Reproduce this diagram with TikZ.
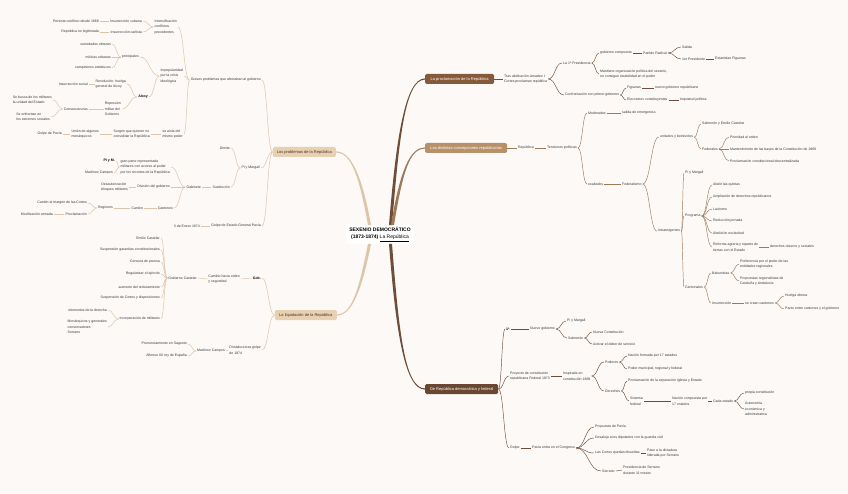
\documentclass[tikz,border=0pt]{standalone}
\usepackage{fontspec}
\setmainfont{Liberation Sans}
\usetikzlibrary{calc}
\definecolor{bg}{HTML}{FCF9F7}
\definecolor{rdark}{HTML}{85593A}
\definecolor{rmid}{HTML}{B8916B}
\definecolor{rdeep}{HTML}{6B4630}
\definecolor{lbox}{HTML}{E8D0B3}
\definecolor{rln}{HTML}{6E4E38}
\definecolor{mln}{HTML}{9C7A5A}
\definecolor{lln}{HTML}{DCC5A8}
\definecolor{txt}{HTML}{3A3A3A}
\definecolor{ltxt}{HTML}{4A3320}
\newcommand\leaffont{\fontsize{3.5}{5.5}\selectfont}
\newcommand\boxfont{\fontsize{4}{5}\selectfont}
\newcommand\redge[2]{\draw[rline] let \p1=(#1.east), \p2=(#2.west), \n1={(\x1+\x2)/2} in (\p1) .. controls (\n1,\y1) and (\n1,\y2) .. (\p2);}
\newcommand\medge[2]{\draw[mline] let \p1=(#1.east), \p2=(#2.west), \n1={(\x1+\x2)/2} in (\p1) .. controls (\n1,\y1) and (\n1,\y2) .. (\p2);}
\newcommand\ledge[2]{\draw[lline] let \p1=(#1.west), \p2=(#2.east), \n1={(\x1+\x2)/2} in (\p1) .. controls (\n1,\y1) and (\n1,\y2) .. (\p2);}
\tikzset{
 rt/.style={anchor=west,font=\leaffont,text=txt,inner sep=1pt,align=left},
 lt/.style={anchor=east,font=\leaffont,text=txt,inner sep=1pt,align=left},
 bd/.style={font=\leaffont\bfseries,text=black},
 mainbox/.style={rounded corners=1.5pt,minimum height=10pt,inner xsep=2pt,inner ysep=0pt,font=\boxfont,text=white},
 lbx/.style={mainbox,fill=lbox,text=ltxt},
 rline/.style={draw=rln,line width=0.45pt},
 mline/.style={draw=mln,line width=0.45pt},
 lline/.style={draw=lln,line width=0.5pt},
}
\begin{document}
\begin{tikzpicture}[x=1pt,y=-1pt]
\fill[bg] (0,0) rectangle (848,494);
\useasboundingbox (0,0) rectangle (848,494);

% centre
\node[fill=white,inner xsep=3pt,inner ysep=2pt,align=center,font=\fontsize{5}{7}\selectfont\bfseries,text=black] (c) at (380,234.5) {SEXENIO DEMOCRÁTICO\\(1873-1874) \underline{\mdseries La República}};

% main boxes
\node[mainbox,fill=rdark,anchor=west,minimum width=69pt] (R1) at (425,79) {La proclamación de la República};
\node[mainbox,fill=rmid,anchor=west,minimum width=82pt] (R2) at (425,148) {Las distintas concepciones republicanas};
\node[mainbox,fill=rdeep,anchor=west,minimum width=73pt] (R3) at (425,389) {De República democrática y federal};
\node[lbx,anchor=east,minimum width=63pt] (L1) at (336,152) {Los problemas de la República};
\node[lbx,anchor=east,minimum width=62pt] (L2) at (337,315) {La liquidación de la República};

% tapered trunks
\fill[rln] ([xshift=9pt]c.north) .. controls +(7,-86) and +(-20,0) .. ([yshift=0.6pt]R1.west) -- ([yshift=-0.6pt]R1.west) .. controls +(-20,0) and +(7,-86) .. ([xshift=12pt]c.north) -- cycle;
\fill[mln] ([xshift=11pt]c.north) .. controls +(9,-55) and +(-15,0) .. ([yshift=0.6pt]R2.west) -- ([yshift=-0.6pt]R2.west) .. controls +(-15,0) and +(9,-55) .. ([xshift=14pt]c.north) -- cycle;
\fill[rln] ([xshift=9pt]c.south) .. controls +(7,90) and +(-20,0) .. ([yshift=-0.6pt]R3.west) -- ([yshift=0.6pt]R3.west) .. controls +(-20,0) and +(7,90) .. ([xshift=12pt]c.south) -- cycle;
\fill[lln] ([xshift=-9pt]c.north) .. controls +(-9,-50) and +(15,0) .. ([yshift=0.6pt]L1.east) -- ([yshift=-0.6pt]L1.east) .. controls +(15,0) and +(-9,-50) .. ([xshift=-12pt]c.north) -- cycle;
\fill[lln] ([xshift=-9pt]c.south) .. controls +(-9,45) and +(15,0) .. ([yshift=-0.6pt]L2.east) -- ([yshift=0.6pt]L2.east) .. controls +(15,0) and +(-9,45) .. ([xshift=-12pt]c.south) -- cycle;

% ---------- R1
\node[rt] (a1) at (503,79) {Tras abdicación Amadeo I\\Cortes proclaman república};
\node[rt] (a2) at (562,63) {La 1ª Presidencia};
\node[rt] (a3) at (599,53) {gobierno compuesto};
\node[rt] (a4) at (642,53) {Partido Radical};
\node[rt] (a5) at (681,47) {Salida};
\node[rt] (a6) at (681,59) {1er Presidente};
\node[rt] (a7) at (714,59) {Estanislao Figueras};
\node[rt] (a8) at (599,74) {Mantiene organización política del sexenio,\\no consigue estabilidad en el poder};
\node[rt] (a9) at (564,95) {Confrontación con primer gobierno};
\node[rt] (a10) at (626,88) {Figueras};
\node[rt] (a11) at (654,88) {nuevo gobierno republicano};
\node[rt] (a12) at (626,100) {Elecciones constituyentes};
\node[rt] (a13) at (679,100) {Inquietud política};
\redge{R1}{a1}\redge{a1}{a2}\redge{a2}{a3}\redge{a3}{a4}\redge{a4}{a5}\redge{a4}{a6}\redge{a6}{a7}
\redge{a2}{a8}\redge{a1}{a9}\redge{a9}{a10}\redge{a10}{a11}\redge{a9}{a12}\redge{a12}{a13}

% ---------- R2
\node[rt] (b1) at (517,148) {República};
\node[rt] (b2) at (546,148) {Tensiones políticas};
\node[rt] (b3) at (587,113) {Moderados};
\node[rt] (b4) at (621,113) {salida de emergencia};
\node[rt] (b5) at (587,184) {exaltados};
\node[rt] (b6) at (621,184) {Federalismo};
\node[rt] (b7) at (659,137) {unitarios y benévolos};
\node[rt] (b8) at (701,124) {Salmerón y Emilio Castelar};
\node[rt] (b9) at (701,149) {Federales};
\node[rt] (b10) at (729,137) {Prioridad al orden};
\node[rt] (b11) at (729,149) {Mantenimiento de las bases de la Constitución de 1869};
\node[rt] (b12) at (729,161) {Proclamación constitucional descentralizada};
\node[rt] (b13) at (657,231) {Intransigentes};
\node[rt] (b14) at (684,173) {Pi y Margall};
\node[rt] (b15) at (684,216) {Programa};
\node[rt] (b16) at (712,185) {Abolir las quintas};
\node[rt] (b17) at (712,197) {Ampliación de derechos republicanos};
\node[rt] (b18) at (712,209) {Laicismo};
\node[rt] (b19) at (712,221) {Reducción jornada};
\node[rt] (b20) at (712,233) {Abolición esclavitud};
\node[rt] (b21) at (712,247) {Reforma agraria y reparto de\\tierras con el Estado};
\node[rt] (b22) at (769,247) {derechos obreros y sociales};
\node[rt] (b23) at (684,287) {Cantonales};
\node[rt] (b24) at (711,273) {Bakunistas};
\node[rt] (b25) at (739,264) {Preferencia por el poder de las\\entidades regionales};
\node[rt] (b26) at (739,281) {Propuestas regionalistas de\\Cataluña y Andalucía};
\node[rt] (b27) at (711,303) {Insurrección};
\node[rt] (b28) at (744,303) {se crean cantones};
\node[rt] (b29) at (784,296) {Huelga obrera};
\node[rt] (b30) at (784,309) {Pacto entre cantones y el gobierno};
\medge{R2}{b1}\medge{b1}{b2}\medge{b2}{b3}\medge{b3}{b4}\medge{b2}{b5}\medge{b5}{b6}
\medge{b6}{b7}\medge{b7}{b8}\medge{b7}{b9}\medge{b9}{b10}\medge{b9}{b11}\medge{b9}{b12}
\medge{b6}{b13}\medge{b13}{b14}\medge{b13}{b15}
\medge{b15}{b16}\medge{b15}{b17}\medge{b15}{b18}\medge{b15}{b19}\medge{b15}{b20}\medge{b15}{b21}\medge{b21}{b22}
\medge{b13}{b23}\medge{b23}{b24}\medge{b24}{b25}\medge{b24}{b26}\medge{b23}{b27}\medge{b27}{b28}\medge{b28}{b29}\medge{b28}{b30}

% ---------- R3
\node[rt,bd] (c1) at (505,329) {1ª};
\node[rt] (c2) at (529,329) {Nuevo gobierno};
\node[rt] (c3) at (566,321) {Pi y Margall};
\node[rt] (c4) at (567,338) {Salmerón};
\node[rt] (c5) at (592,332) {Nueva Constitución};
\node[rt] (c6) at (592,344) {Activar el deber de servicio};
\node[rt] (c7) at (509,376) {Proyecto de constitución\\republicana Federal 1873};
\node[rt] (c8) at (562,376) {Inspirada en\\constitución 1869};
\node[rt] (c9) at (604,362) {Poderes};
\node[rt] (c10) at (627,356) {Nación formada por 17 estados};
\node[rt] (c11) at (627,369) {Poder municipal, regional y federal};
\node[rt] (c12) at (604,391) {Derechos};
\node[rt] (c13) at (627,381) {Proclamación de la separación Iglesia y Estado};
\node[rt] (c14) at (629,401) {Sistema\\federal};
\node[rt] (c15) at (671,401) {Nación compuesta por\\17 estados};
\node[rt] (c16) at (712,401) {Cada estado};
\node[rt] (c17) at (744,393) {propia constitución};
\node[rt] (c18) at (744,409) {Autonomía\\económica y\\administrativa};
\node[rt] (c19) at (509,448) {Golpe};
\node[rt] (c20) at (531,448) {Pavía entra en el Congreso};
\node[rt] (c21) at (594,427) {Propuesta de Pavía};
\node[rt] (c22) at (594,438) {Desaloja a los diputados con la guardia civil};
\node[rt] (c23) at (594,453) {Las Cortes quedan disueltas};
\node[rt] (c24) at (646,453) {Paso a la dictadura\\liderada por Serrano};
\node[rt] (c25) at (601,471) {Serrano};
\node[rt] (c26) at (622,470) {Presidencia de Serrano\\durante 11 meses};
\redge{R3}{c1}\redge{c1}{c2}\redge{c2}{c3}\redge{c2}{c4}\redge{c4}{c5}\redge{c4}{c6}
\redge{R3}{c7}\redge{c7}{c8}\redge{c8}{c9}\redge{c9}{c10}\redge{c9}{c11}\redge{c8}{c12}\redge{c12}{c13}\redge{c12}{c14}
\redge{c14}{c15}\redge{c15}{c16}\redge{c16}{c17}\redge{c16}{c18}
\redge{R3}{c19}\redge{c19}{c20}\redge{c20}{c21}\redge{c20}{c22}\redge{c20}{c23}\redge{c23}{c24}\redge{c20}{c25}\redge{c25}{c26}

% ---------- L1
\node[lt] (d1) at (262,80) {Graves problemas que afectaban al gobierno};
\node[lt] (d2) at (178,27) {Intensificación\\conflictos\\precedentes};
\node[lt] (d3) at (143,21) {Insurrección cubana};
\node[lt] (d4) at (100,21) {Persiste conflicto desde 1868};
\node[lt] (d5) at (143,32) {Insurrección carlista};
\node[lt] (d6) at (100,32) {República no legitimada};
\node[lt] (d7) at (184,76) {Impopularidad\\por la crisis\\ideológica};
\node[lt] (d8) at (140,57) {principales};
\node[lt] (d9) at (112,44) {sociedades obreras};
\node[lt] (d10) at (112,57) {milicias urbanas};
\node[lt] (d11) at (112,68) {campesinos andaluces};
\node[lt,bd] (d12) at (149,97) {Alcoy};
\node[lt] (d13) at (127,84) {Revolución: huelga\\general de Alcoy};
\node[lt] (d14) at (89,84) {Insurrección social};
\node[lt] (d15) at (122,109) {Represión\\militar del\\Gobierno};
\node[lt] (d16) at (89,109) {Consecuencias};
\node[lt] (d17) at (53,100) {Se busca de los militares\\la unidad del Estado};
\node[lt] (d18) at (51,117) {Se enfrentan en\\los extremos sociales};
\node[lt] (d19) at (184,134) {se aísla del\\mismo poder};
\node[lt] (d20) at (151,134) {Surgen que quieren no\\consolidar la República};
\node[lt] (d21) at (100,134) {Unión de algunos\\monárquicos};
\node[lt] (d22) at (63,134) {Golpe de Pavía};
\node[lt] (d23) at (261,168) {Pi y Margall};
\node[lt] (d24) at (231,148) {Dimite};
\node[lt] (d25) at (231,187) {Sustitución};
\node[lt] (d26) at (202,187) {Gabinete};
\node[lt] (d27) at (171,167) {gran parte representada\\militares con acceso al poder\\por los recortes de la República};
\node[lt,bd] (d28) at (116,161) {Pi y M.};
\node[lt] (d29) at (114,173) {Martínez Campos};
\node[lt] (d30) at (171,187) {División del gobierno};
\node[lt] (d31) at (129,187) {Desautorización\\bloqueo militares};
\node[lt] (d32) at (174,208) {Cantones};
\node[lt] (d33) at (144,208) {Cantón};
\node[lt] (d34) at (114,208) {Regiones};
\node[lt] (d35) at (88,203) {Cantón al margen de las Cortes};
\node[lt] (d36) at (88,214) {Proclamación};
\node[lt] (d37) at (54,214) {Movilización armada};
\node[lt] (d38) at (262,226) {Golpe de Estado General Pavía};
\node[lt] (d39) at (201,226) {3 de Enero 1874};
\ledge{L1}{d1}\ledge{d1}{d2}\ledge{d2}{d3}\ledge{d3}{d4}\ledge{d2}{d5}\ledge{d5}{d6}
\ledge{d1}{d7}\ledge{d7}{d8}\ledge{d8}{d9}\ledge{d8}{d10}\ledge{d8}{d11}
\ledge{d7}{d12}\ledge{d12}{d13}\ledge{d13}{d14}\ledge{d12}{d15}\ledge{d15}{d16}\ledge{d16}{d17}\ledge{d16}{d18}
\ledge{d1}{d19}\ledge{d19}{d20}\ledge{d20}{d21}\ledge{d21}{d22}
\ledge{L1}{d23}\ledge{d23}{d24}\ledge{d23}{d25}\ledge{d25}{d26}\ledge{d26}{d27}\ledge{d27}{d28}\ledge{d27}{d29}
\ledge{d26}{d30}\ledge{d30}{d31}\ledge{d26}{d32}\ledge{d32}{d33}\ledge{d33}{d34}\ledge{d34}{d35}\ledge{d34}{d36}\ledge{d36}{d37}
\ledge{L1}{d38}\ledge{d38}{d39}

% ---------- L2
\node[lt,bd] (e1) at (262,278) {Gob.};
\node[lt] (e2) at (241,279) {Cambio hacia orden\\y seguridad};
\node[lt] (e3) at (198,278) {Gobierno Castelar};
\node[lt] (e4) at (161,238) {Emilio Castelar};
\node[lt] (e5) at (161,250) {Suspensión garantías constitucionales};
\node[lt] (e6) at (161,262) {Censura de prensa};
\node[lt] (e7) at (161,274) {Regularizar el ejército};
\node[lt] (e8) at (161,287) {aumento del reclutamiento};
\node[lt] (e9) at (161,298) {Suspensión de Cortes y disposiciones};
\node[lt] (e10) at (161,319) {Incorporación de militares};
\node[lt] (e11) at (108,310) {elementos de la derecha};
\node[lt] (e12) at (108,327) {Monárquicos y generales\\conservadores\\Serrano};
\node[lt] (e13) at (262,350) {Dictadura tras golpe\\de 1874};
\node[lt] (e14) at (226,351) {Martínez Campos};
\node[lt] (e15) at (188,344) {Pronunciamiento en Sagunto};
\node[lt] (e16) at (188,356) {Alfonso XII rey de España};
\ledge{L2}{e1}\ledge{e1}{e2}\ledge{e2}{e3}
\ledge{e3}{e4}\ledge{e3}{e5}\ledge{e3}{e6}\ledge{e3}{e7}\ledge{e3}{e8}\ledge{e3}{e9}\ledge{e3}{e10}
\ledge{e10}{e11}\ledge{e10}{e12}
\ledge{L2}{e13}\ledge{e13}{e14}\ledge{e14}{e15}\ledge{e14}{e16}
\end{tikzpicture}
\end{document}
